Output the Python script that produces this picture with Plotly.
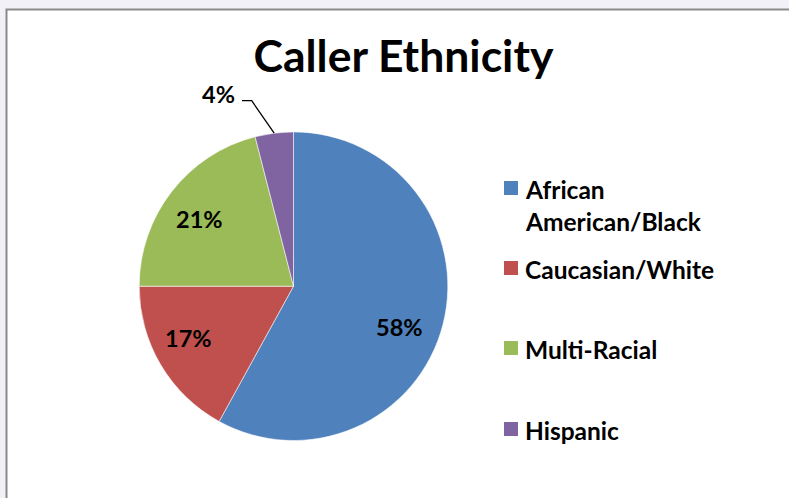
import math
import plotly.graph_objects as go

# Survey breakdown of callers by ethnicity (percent of callers)
categories = ["African American/Black", "Caucasian/White", "Multi-Racial", "Hispanic"]
legend_text = ["African<br>American/Black", "Caucasian/White", "Multi-Racial", "Hispanic"]
shares = [58, 17, 21, 4]
colors = ["#4F81BD", "#C0504D", "#9BBB59", "#8064A2"]

W, H = 789, 498
FONT = "Lato"


def px(x):
    return x / W


def py(y):
    return 1 - y / H


# pie geometry in pixels
cx, cy, r = 293.5, 286.2, 154.3

fig = go.Figure(
    go.Pie(
        labels=categories,
        values=shares,
        sort=False,
        direction="clockwise",
        rotation=0,
        marker=dict(colors=colors, line=dict(color="rgba(255,255,255,0.55)", width=1)),
        textinfo="none",
        hoverinfo="label+percent",
        showlegend=False,
        domain=dict(x=[px(cx - r), px(cx + r)], y=[py(cy + r), py(cy - r)]),
    )
)

total = sum(shares)
pct_text = [f"{round(v / total * 100)}%" for v in shares]

# data label anchor points (pixel centres)
label_pos = [(399.5, 327), (188, 337.5), (199.5, 219), (218.5, 94)]

annotations = []
for t, (lx, ly) in zip(pct_text, label_pos):
    annotations.append(dict(
        x=px(lx), y=py(ly), xref="paper", yref="paper", text=t, showarrow=False,
        xanchor="center", yanchor="middle",
        font=dict(family=FONT, size=23.5, color="#000000", weight=700),
    ))

# leader line for the small slice: ends on the rim at the slice's mid-angle
start = sum(shares[:3]) / total * 360
mid = math.radians(start + shares[3] / total * 360 / 2)
ex, ey = cx + r * math.sin(mid), cy - r * math.cos(mid)
shapes = [
    # outer backdrop and chart frame
    dict(type="rect", xref="paper", yref="paper", x0=px(6.5), x1=1.02, y0=-0.02, y1=py(9.5),
         fillcolor="#FFFFFF", line=dict(color="#8A8A8A", width=2), layer="below"),
    dict(type="path", xref="paper", yref="paper",
         path=f"M {px(242)},{py(100.7)} L {px(251.7)},{py(100.7)} L {px(ex)},{py(ey)}",
         line=dict(color="#000000", width=1.3)),
]

# legend: swatches and labels
legend_y = [188, 268, 348, 429]
for name, col, ly in zip(legend_text, colors, legend_y):
    shapes.append(dict(type="rect", xref="paper", yref="paper",
                       x0=px(504), x1=px(518), y0=py(ly + 7), y1=py(ly - 7),
                       fillcolor=col, line=dict(width=0)))
    annotations.append(dict(
        x=px(523), y=py(ly - 15), xref="paper", yref="paper", text=name, showarrow=False,
        xanchor="left", yanchor="top", align="left",
        font=dict(family=FONT, size=24.5, color="#000000", weight=700),
    ))

fig.update_layout(
    width=W, height=H,
    margin=dict(l=0, r=0, t=0, b=0),
    paper_bgcolor="#F2F1F8",
    plot_bgcolor="#FFFFFF",
    title=dict(text="Caller Ethnicity", x=px(403.5), xanchor="center",
               y=py(56), yanchor="middle",
               font=dict(family=FONT, size=44.5, color="#000000", weight=700)),
    shapes=shapes,
    annotations=annotations,
)

fig.write_html("out.html")
